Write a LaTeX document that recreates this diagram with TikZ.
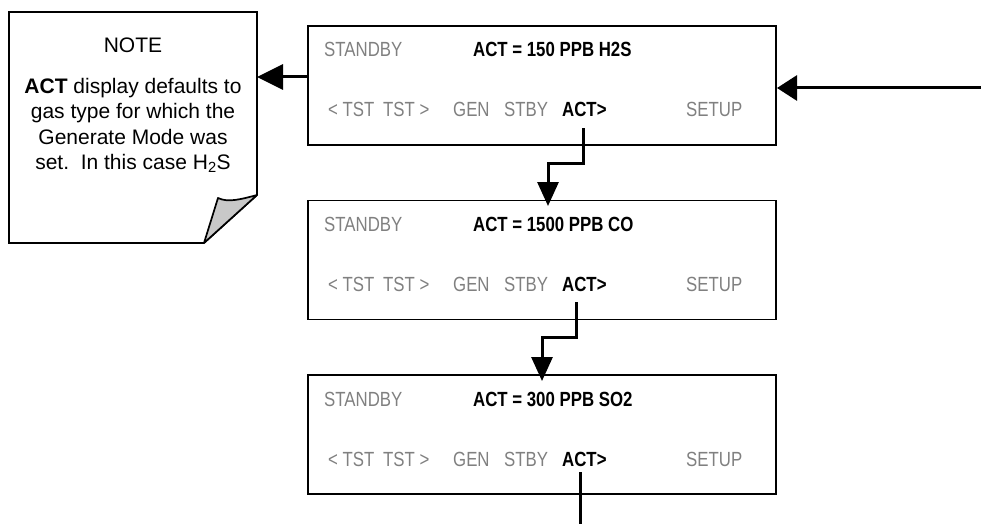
\documentclass[tikz,border=0pt]{standalone}
\usepackage{fontspec}
\setmainfont{Liberation Sans}
\newfontfamily\narrowfont[FakeStretch=0.82]{Liberation Sans}
\usetikzlibrary{arrows.meta}
\definecolor{softgray}{HTML}{808080}
\definecolor{flapgray}{HTML}{C8C8C8}
\tikzset{
  screen/.style={draw=black, line width=1.7pt, minimum width=468pt, minimum height=119pt, inner sep=0pt},
  dim/.style={anchor=base west, inner sep=0pt, text=softgray, font=\narrowfont\fontsize{20.5}{24}\selectfont},
  strong/.style={anchor=base west, inner sep=0pt, text=black, font=\narrowfont\bfseries\fontsize{20.5}{24}\selectfont},
  notetext/.style={anchor=base, inner sep=0pt, font=\fontsize{21}{25}\selectfont},
  flow/.style={line width=3pt, -{Triangle[length=24pt,width=21pt]}},
  sideflow/.style={line width=3pt, -{Triangle[length=26pt,width=25pt]}},
  inflow/.style={line width=3pt, -{Triangle[length=20pt,width=25pt]}},
}
\begin{document}
\begin{tikzpicture}[x=1pt,y=-1pt]
\useasboundingbox (0,0) rectangle (981,524);
% note
\draw[line width=1.7pt, fill=white] (9,12) -- (257,12) -- (257,195) -- (204,243) -- (9,243) -- cycle;
\draw[line width=1.7pt, fill=flapgray, line join=round] (204,243) -- (218,198) .. controls (228,203) and (242,199) .. (257,195) -- cycle;
\node[notetext] (notehead) at (133,52.7) {NOTE};
\node[notetext] (note1) at (133,93.3) {\textbf{ACT} display defaults to};
\node[notetext] (note2) at (133,118.7) {gas type for which the};
\node[notetext] (note3) at (133,144.1) {Generate Mode was};
\node[notetext] (note4) at (133,169.5) {set.\ \ In this case H\textsubscript{2}S};
\coordinate (noteE) at (257,77);
% screens
\node[screen] (box1) at (542,85.5) {};
\node[screen] (box2) at (542,260) {};
\node[screen] (box3) at (542,434.5) {};
\foreach \b/\t/\val in {box1/26/150 PPB H2S, box2/200/1500 PPB CO, box3/375/300 PPB SO2}{
  \node[dim] (\b-sb) at (324,\t+31) {STANDBY};
  \node[strong] (\b-act) at (473,\t+31) {ACT = \val};
  \node[dim] (\b-t1) at (328,\t+91) {< TST};
  \node[dim] (\b-t2) at (383,\t+91) {TST >};
  \node[dim] (\b-gen) at (453,\t+91) {GEN};
  \node[dim] (\b-stby) at (504,\t+91) {STBY};
  \node[strong] (\b-key) at (562,\t+91) {ACT>};
  \node[dim] (\b-setup) at (686,\t+91) {SETUP};
}
% connectors
\coordinate (b1W) at (308,77);
\coordinate (inR) at (981,88);
\coordinate (b1R) at (777,88);
\coordinate (c1a) at (583,128);
\coordinate (c1b) at (583,163);
\coordinate (c1c) at (548,163);
\coordinate (c1d) at (548,206);
\coordinate (c2a) at (576,302);
\coordinate (c2b) at (576,337);
\coordinate (c2c) at (542,337);
\coordinate (c2d) at (542,381);
\coordinate (c3a) at (580,472);
\coordinate (c3b) at (580,524);
\draw[sideflow] (b1W) -- (noteE);
\draw[inflow] (inR) -- (b1R);
\draw[flow, line join=miter] (c1a) -- (c1b) -- (c1c) -- (c1d);
\draw[flow, line join=miter] (c2a) -- (c2b) -- (c2c) -- (c2d);
\draw[line width=3pt] (c3a) -- (c3b);
\end{tikzpicture}
\end{document}
